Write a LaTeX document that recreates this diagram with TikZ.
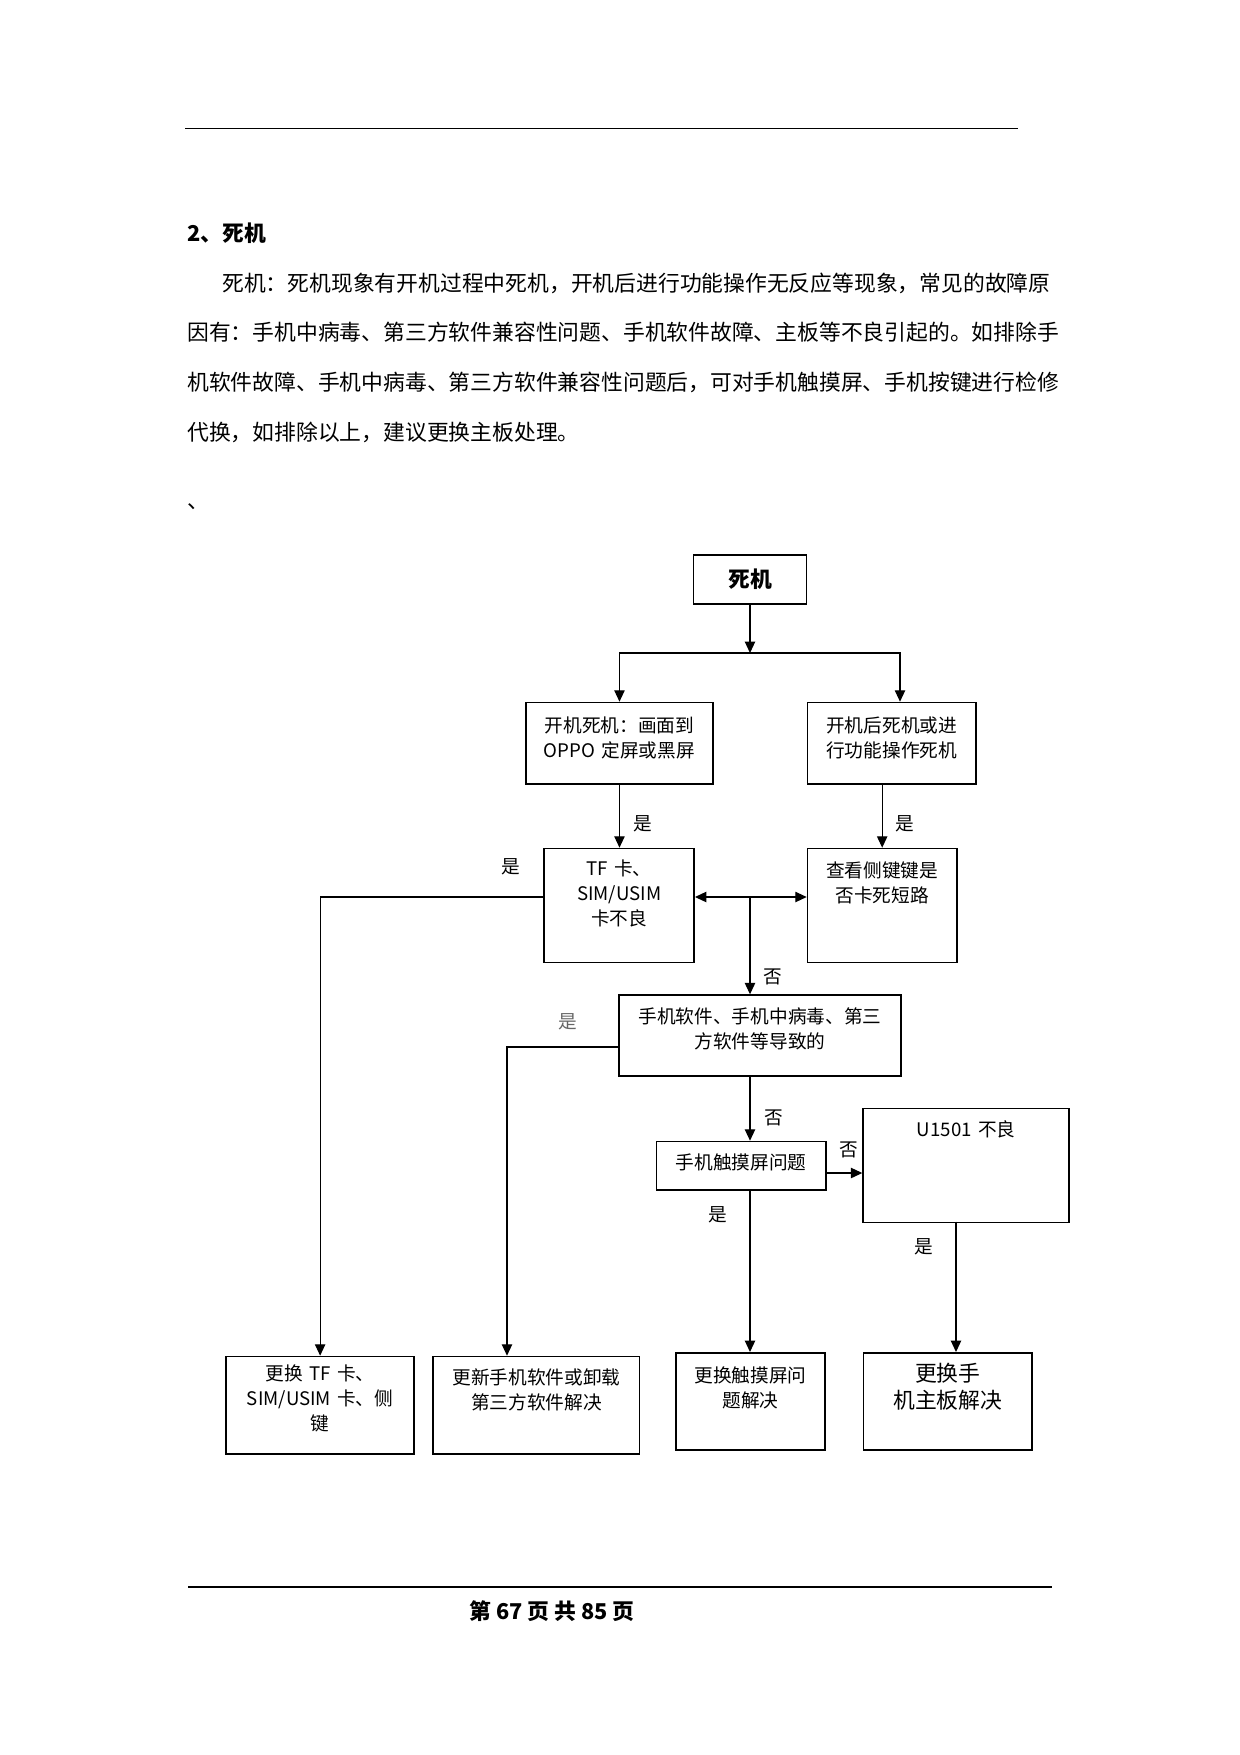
\documentclass[tikz,border=0pt]{standalone}
\usepackage{fontspec}
\setmainfont{Noto Sans CJK SC}
\usetikzlibrary{arrows.meta}
\newlength\pu
\setlength\pu{0.16935mm}
\tikzset{>={Triangle[length=5.5pt,width=5pt]}}
\tikzstyle{box}=[draw=black,line width=0.8pt,anchor=north west,align=center,inner xsep=0pt,inner ysep=0pt,font=\fontsize{9}{12}\selectfont]
\tikzstyle{flow}=[->,line width=0.6pt,color=black]
\tikzstyle{yes}=[inner sep=0pt,font=\fontsize{9}{12}\selectfont]
\tikzstyle{body}=[anchor=base west,inner sep=0pt,font=\fontsize{10.5}{13}\selectfont]

\begin{document}
\begin{tikzpicture}[x=\pu,y=-\pu]
	\useasboundingbox (0,0) rectangle (1240,1755);

	% page text
	\draw[line width=0.5pt] (185,128.7) -- (1018,128.7);
	\node[body,font=\bfseries\fontsize{10.5}{13}\selectfont] (heading) at (187,241) {2、死机};
	\node[body] (para1) at (222,291) {死机：死机现象有开机过程中死机，开机后进行功能操作无反应等现象，常见的故障原};
	\node[body] (para2) at (187,340) {因有：手机中病毒、第三方软件兼容性问题、手机软件故障、主板等不良引起的。如排除手};
	\node[body] (para3) at (187,390) {机软件故障、手机中病毒、第三方软件兼容性问题后，可对手机触摸屏、手机按键进行检修};
	\node[body] (para4) at (187,440) {代换，如排除以上，建议更换主板处理。};
	\node[body] (dun) at (187,508) {、};

	% boxes
	\node[box,minimum width=113\pu,minimum height=49\pu,anchor=center,font=\bfseries\fontsize{10.5}{13}\selectfont] (top) at (750,579.7) {死机};
	\node[box,text width=187.3\pu,text height=30.3\pu,text depth=51.3\pu] (boot) at (525,701.7) {开机死机：画面到\\OPPO 定屏或黑屏};
	\node[box,text width=168.3\pu,text height=30.3\pu,text depth=51.3\pu] (after) at (806.7,701.7) {开机后死机或进\\行功能操作死机};
	\node[box,text width=150\pu,text height=27.3\pu,text depth=86.7\pu] (TF) at (543.3,847.7) {TF 卡、\\SIM/USIM\\卡不良};
	\node[box,text width=149.3\pu,text height=29.3\pu,text depth=84.7\pu] (check) at (806.7,847.7) {查看侧键键是\\否卡死短路};
	\node[box,text width=281.7\pu,text height=28.7\pu,text depth=52\pu] (soft) at (618.3,994.3) {手机软件、手机中病毒、第三\\方软件等导致的};
	\node[box,text width=169.3\pu,text height=28\pu,text depth=20.3\pu] (touch) at (655.7,1140.7) {手机触摸屏问题};
	\node[box,text width=206\pu,text height=28.3\pu,text depth=85.7\pu] (u1501) at (862.3,1107.7) {U1501 不良};
	\node[box,text width=187.8\pu,text height=24.3\pu,text depth=73.3\pu] (chg1) at (225.4,1355.7) {更换 TF 卡、\\SIM/USIM 卡、侧\\键};
	\node[box,text width=206.4\pu,text height=28.3\pu,text depth=69.3\pu] (chg2) at (432.4,1355.7) {更新手机软件或卸载\\第三方软件解决};
	\node[box,text width=149.4\pu,text height=30\pu,text depth=67\pu] (chg3) at (675,1352) {更换触摸屏问\\题解决};
	\node[box,text width=168.7\pu,text height=29\pu,text depth=68\pu,font=\fontsize{10.5}{13}\selectfont] (chg4) at (862.5,1352) {更换手\\机主板解决};

	% connectors
	\coordinate (split) at (750,653);
	\coordinate (afterin) at (900,701.7);
	\coordinate (mid) at (750,897);
	\coordinate (softout) at (618.3,1047);
	\coordinate (chg2in) at (507,1355.7);
	\coordinate (touchout) at (825,1173);
	\coordinate (boardout) at (956,1221.7);
	\draw[flow] (top) -- (split);
	\draw[flow] (split) -| (boot.north);
	\draw[flow] (split) -| (afterin);
	\draw[flow] (boot.south) -- (boot.south |- TF.north);
	\draw[flow] (check.north |- after.south) -- (check.north);
	\draw[flow,<->] (TF.east |- mid) -- (check.west |- mid);
	\draw[flow] (mid) -- (mid |- soft.north);
	\draw[flow] (TF.west |- mid) -| (chg1.north);
	\draw[flow] (softout) -| (chg2in);
	\draw[flow] (mid |- soft.south) -- (mid |- touch.north);
	\draw[flow] (touchout) -- (touchout -| u1501.west);
	\draw[flow] (mid |- touch.south) -- (mid |- chg3.north);
	\draw[flow] (boardout) -- (boardout |- chg4.north);

	% labels
	\node[yes] (yes1) at (643,824) {是};
	\node[yes] (yes2) at (905,824) {是};
	\node[yes] (yes3) at (511,867) {是};
	\node[yes,black!60] (yes4) at (568,1022) {是};
	\node[yes] (no1) at (773,977) {否};
	\node[yes] (no2) at (774,1118) {否};
	\node[yes] (no3) at (849,1150) {否};
	\node[yes] (yes5) at (718,1215) {是};
	\node[yes] (yes6) at (924,1247) {是};

	% footer
	\draw[line width=0.7pt] (188,1587) -- (1052,1587);
	\node[body,anchor=base,font=\bfseries\fontsize{10.5}{13}\selectfont] (footer) at (552,1619) {第 67 页 共 85 页};
\end{tikzpicture}
\end{document}
